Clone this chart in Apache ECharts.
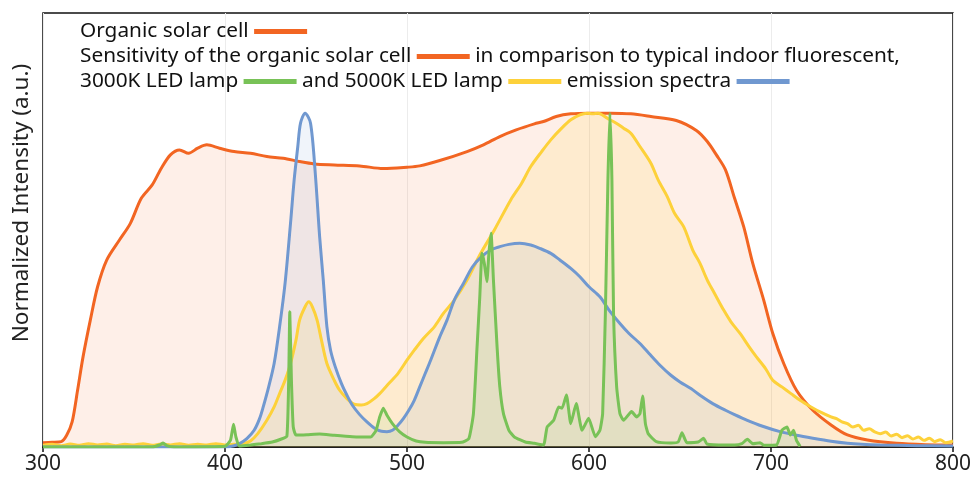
<!DOCTYPE html>
<html>
<head>
<meta charset="utf-8">
<script src="https://cdn.jsdelivr.net/npm/echarts@6/dist/echarts.min.js"></script>
<style>
  html, body { margin: 0; padding: 0; background: #fff; }
  #chart { width: 974px; height: 478px; }
</style>
</head>
<body>
<div id="chart"></div>
<script>
// organic solar cell sensitivity
const cellWl = [300,305,310,313,316,319,322,326,330,335,342,348,354,360,365,370,375,380,385,390,397,405,414,423,432,441,449,460,474,487,500,507,518,533,542,551,560,570,575,582,590,600,612,623,634,648,659,665,670,675,680,685,690,696,701,707,714,723,733,742,753,769,785,800]
const cellVal = [0.013,0.014,0.016,0.035,0.075,0.17,0.27,0.38,0.48,0.56,0.62,0.67,0.745,0.785,0.835,0.875,0.89,0.88,0.895,0.905,0.895,0.885,0.88,0.87,0.865,0.855,0.848,0.845,0.842,0.834,0.838,0.842,0.858,0.885,0.905,0.93,0.95,0.968,0.975,0.99,0.998,1.0,1.0,0.998,0.99,0.978,0.948,0.915,0.875,0.83,0.745,0.66,0.55,0.44,0.34,0.25,0.17,0.11,0.066,0.036,0.021,0.011,0.007,0.006]

// fluorescent (green)
const fluoWl = [300,360,364,366,368,372,400,403,404.7,406,408,414,420,426,431,434,435,435.6,436.5,437.5,439,445,452,460,470,480,483,485,487,489,492,496,500,505,510,520,530,534,536.5,538.5,540,541.2,542.5,543.9,545,546.2,547.5,549.5,551,553,556,559,565,570,575,577,580.6,583.3,585.2,587.6,590,593,596.2,599.8,603.5,606,607.5,609,610.4,611.5,612.6,613.5,615.2,617,619,623.4,626.2,628,629.5,631,632.5,637,645,649,651.1,653.8,660,663,664.8,675,680,684,687,690,694,696,703,706,708.8,710.6,712.4,714,716]
const fluoVal = [0,0,0.006,0.012,0.004,0,0.002,0.02,0.068,0.03,0.003,0.006,0.01,0.015,0.024,0.032,0.2,0.405,0.2,0.06,0.036,0.037,0.039,0.035,0.031,0.03,0.05,0.09,0.116,0.095,0.07,0.045,0.03,0.018,0.014,0.013,0.014,0.025,0.1,0.3,0.45,0.58,0.55,0.495,0.58,0.64,0.5,0.3,0.18,0.1,0.05,0.03,0.015,0.011,0.006,0.06,0.08,0.12,0.116,0.156,0.07,0.13,0.05,0.086,0.031,0.05,0.1,0.4,0.8,1.0,0.8,0.4,0.18,0.1,0.08,0.106,0.09,0.1,0.153,0.07,0.04,0.016,0.012,0.015,0.043,0.013,0.015,0.026,0.009,0.006,0.006,0.01,0.023,0.01,0.013,0.005,0.006,0.05,0.06,0.036,0.05,0.02,0.002]

// 3000K LED (yellow)
const led3Wl = [300,305,310,315,320,325,330,335,340,345,350,355,360,365,370,375,380,385,390,395,400,405,410,414,418,423,427,430,433,436,439,441,444,446,448,450.6,453,456,460,463,467,471,475,478,482,485,490,495,500,504,509,515,520,526,533,540,548,557,563,568,574,579,585,590,595,599,602,605,610,615,619,623,628,634,638,643,647,652,657,661,665,669,674,678,683,688,692,697,701,706,711,716,722,727,733,736,739,742,745,748,751,754,757,760,763,766,769,772,775,778,781,784,787,790,793,796,800]
const led3Val = [0.005,0.008,0.004,0.009,0.005,0.01,0.006,0.009,0.004,0.008,0.006,0.01,0.005,0.009,0.006,0.01,0.005,0.008,0.006,0.01,0.006,0.008,0.01,0.018,0.04,0.08,0.12,0.16,0.2,0.25,0.32,0.38,0.42,0.435,0.42,0.38,0.32,0.25,0.2,0.17,0.145,0.128,0.126,0.13,0.145,0.16,0.19,0.22,0.26,0.29,0.325,0.36,0.4,0.44,0.5,0.575,0.65,0.74,0.79,0.84,0.885,0.92,0.955,0.98,0.995,1.0,0.998,1.0,0.985,0.97,0.955,0.94,0.9,0.85,0.8,0.75,0.7,0.66,0.59,0.55,0.5,0.46,0.41,0.375,0.34,0.3,0.27,0.235,0.2,0.18,0.16,0.14,0.12,0.105,0.09,0.085,0.075,0.07,0.06,0.065,0.05,0.055,0.045,0.04,0.045,0.033,0.038,0.028,0.034,0.024,0.03,0.02,0.026,0.016,0.022,0.013,0.018]

// 5000K LED (blue)
const led5Wl = [300,400,405,408,412,416,419,421,424,427,430,433,436,438,440,441.5,444,447,449.6,452,454,456,458,460.6,464,467,470,474,478,482,486,489,492,495,498,501,504,507,510,513,518,522,526,531,536,541,546,551,556,562,568,573,579,584,590,595,600,606,611,617,622,628,633,639,645,650,656,661,668,675,680,687,695,705,714,723,733,742,750,760,780,800]
const led5Val = [0,0,0.004,0.01,0.025,0.05,0.085,0.12,0.18,0.25,0.36,0.49,0.67,0.8,0.9,0.97,1.0,0.97,0.82,0.63,0.5,0.36,0.29,0.24,0.19,0.155,0.125,0.097,0.075,0.057,0.047,0.046,0.05,0.065,0.085,0.11,0.14,0.18,0.22,0.26,0.33,0.38,0.44,0.49,0.54,0.57,0.59,0.6,0.607,0.61,0.605,0.595,0.58,0.56,0.535,0.51,0.48,0.45,0.41,0.37,0.34,0.31,0.28,0.245,0.215,0.195,0.175,0.155,0.13,0.11,0.097,0.08,0.063,0.046,0.035,0.026,0.017,0.011,0.008,0.006,0.004,0.003]

const xTicks = [300, 400, 500, 600, 700, 800]

const C_CELL = '#f26522'
const C_FLUO = '#78c257'
const C_LED3 = '#fdd13a'
const C_LED5 = '#7098d0'

const zip = (xs, ys) => xs.map((x, i) => [x, ys[i]])

function line(name, wl, val, color, fillOpacity, smooth) {
  return {
    name, type: 'line', data: zip(wl, val), symbol: 'none', smooth,
    lineStyle: { color, width: 3 },
    itemStyle: { color },
    areaStyle: { color, opacity: fillOpacity }
  }
}

const chart = echarts.init(document.getElementById('chart'))
chart.setOption({
  animation: false,
  textStyle: { fontFamily: '"Noto Sans", sans-serif' },
  grid: { left: 43, right: 20, top: 13, bottom: 31, show: true, borderColor: '#111', borderWidth: 1.5, backgroundColor: 'transparent' },
  title: {
    left: 75, top: 14,
    text: 'Organic solar cell {o|}\nSensitivity of the organic solar cell {o|} in comparison to typical indoor fluorescent,\n3000K LED lamp {g|} and 5000K LED lamp {y|} emission spectra {b|}',
    textStyle: {
      fontFamily: '"Noto Sans", sans-serif', fontSize: 20.8, fontWeight: 'normal', color: '#111', lineHeight: 25,
      rich: {
        o: { width: 53, height: 5, backgroundColor: C_CELL, verticalAlign: 'middle' },
        g: { width: 53, height: 5, backgroundColor: C_FLUO, verticalAlign: 'middle' },
        y: { width: 53, height: 5, backgroundColor: C_LED3, verticalAlign: 'middle' },
        b: { width: 53, height: 5, backgroundColor: C_LED5, verticalAlign: 'middle' }
      }
    }
  },
  graphic: [{
    type: 'text', x: 22, y: 203, rotation: Math.PI / 2,
    style: {
      text: 'Normalized Intensity (a.u.)', fontSize: 22.5, fill: '#222',
      fontFamily: '"Noto Sans", sans-serif', align: 'center', verticalAlign: 'middle'
    }
  }],
  xAxis: {
    type: 'value', min: 300, max: 800, interval: 100,
    axisLine: { show: true, lineStyle: { color: '#111', width: 1.5 } },
    axisTick: { show: true, length: 5, lineStyle: { color: '#111', width: 1.5 } },
    axisLabel: { color: '#222', fontSize: 21, margin: 7, formatter: v => xTicks.includes(v) ? String(v) : '' },
    splitLine: { show: true, lineStyle: { color: '#ececec', width: 1 } }
  },
  yAxis: {
    type: 'value', min: 0, max: 1.3,
    axisLine: { show: false }, axisTick: { show: false }, axisLabel: { show: false },
    splitLine: { show: false }
  },
  series: [
    line('Organic solar cell', cellWl, cellVal, C_CELL, 0.1, 0.3),
    line('3000K LED lamp', led3Wl, led3Val, C_LED3, 0.14, 0.3),
    line('5000K LED lamp', led5Wl, led5Val, C_LED5, 0.1, 0.3),
    line('Fluorescent', fluoWl, fluoVal, C_FLUO, 0.1, 0.15)
  ]
})
</script>
</body>
</html>
